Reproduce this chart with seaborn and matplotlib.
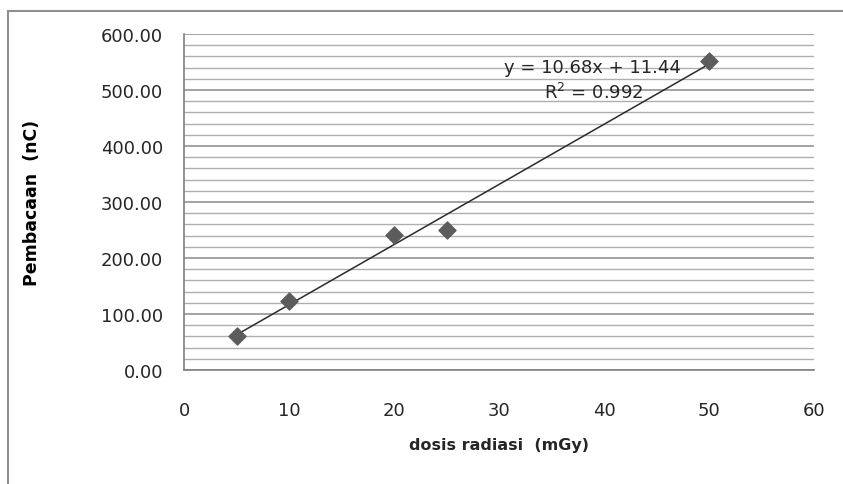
import matplotlib
matplotlib.use("Agg")
import matplotlib.pyplot as plt
from matplotlib.patches import Rectangle
from matplotlib.ticker import MultipleLocator, FormatStrFormatter
import seaborn as sns
import pandas as pd

# values
dose_mgy = [5, 10, 20, 25, 50]
reading_nc = [61, 123, 241, 250, 552]
fit_label = "y = 10.68x + 11.44"
r2_label = "R$^2$ = 0.992"
x_ticks = [0, 10, 20, 30, 40, 50, 60]
y_ticks = [0, 100, 200, 300, 400, 500, 600]

df = pd.DataFrame({"dose": dose_mgy, "reading": reading_nc})

sns.set_theme(style="white")
plt.rcParams["font.family"] = ["DejaVu Sans"]

fig = plt.figure(figsize=(8.43, 4.85), dpi=100)
ax = fig.add_axes([184 / 843, 1 - 371 / 485, 630 / 843, 336 / 485])

# outer chart frame (only top and left edges are inside the crop)
fig.patches.append(Rectangle((8 / 843, -0.1), 1.0, 1.1 - 12 / 485,
                             transform=fig.transFigure, fill=False,
                             edgecolor="#8f8f8f", linewidth=1.5))

sns.regplot(data=df, x="dose", y="reading", ax=ax, ci=None, truncate=True,
            marker="D",
            scatter_kws={"s": 75, "color": "#5c5c5c", "edgecolors": "#5c5c5c",
                         "alpha": 1.0, "zorder": 4},
            line_kws={"color": "#2b2b2b", "linewidth": 1.1, "zorder": 3})

ax.set_xlim(x_ticks[0], x_ticks[-1])
ax.set_ylim(y_ticks[0], y_ticks[-1])
ax.set_xticks(x_ticks)
ax.set_yticks(y_ticks)
ax.yaxis.set_major_formatter(FormatStrFormatter("%.2f"))
ax.yaxis.set_minor_locator(MultipleLocator(20))

ax.grid(which="major", axis="y", color="#8a8a8a", linewidth=1.1)
ax.grid(which="minor", axis="y", color="#aeaeae", linewidth=1.0)
ax.grid(which="major", axis="x", visible=False)
ax.set_axisbelow(True)

for side in ["top", "right"]:
    ax.spines[side].set_visible(False)
for side in ["left", "bottom"]:
    ax.spines[side].set_color("#808080")
    ax.spines[side].set_linewidth(1.2)

ax.tick_params(axis="both", which="major", direction="out", length=5, width=1,
               color="#808080", labelsize=13, labelcolor="#262626")
ax.tick_params(axis="y", which="minor", length=0)
ax.tick_params(axis="x", pad=17)
ax.tick_params(axis="y", pad=10)

ax.set_xlabel("dosis radiasi  (mGy)", fontsize=11.5, fontweight="bold",
              color="#262626", labelpad=13)
ax.set_ylabel("Pembacaan  (nC)", fontsize=12.5, fontweight="bold",
              color="#000000", labelpad=43)

ax.text(0.648, 0.902, fit_label, transform=ax.transAxes, ha="center", va="center",
        fontsize=13, color="#262626")
ax.text(0.650, 0.827, r2_label, transform=ax.transAxes, ha="center", va="center",
        fontsize=13, color="#262626")

fig.savefig("out.png", dpi=100)
